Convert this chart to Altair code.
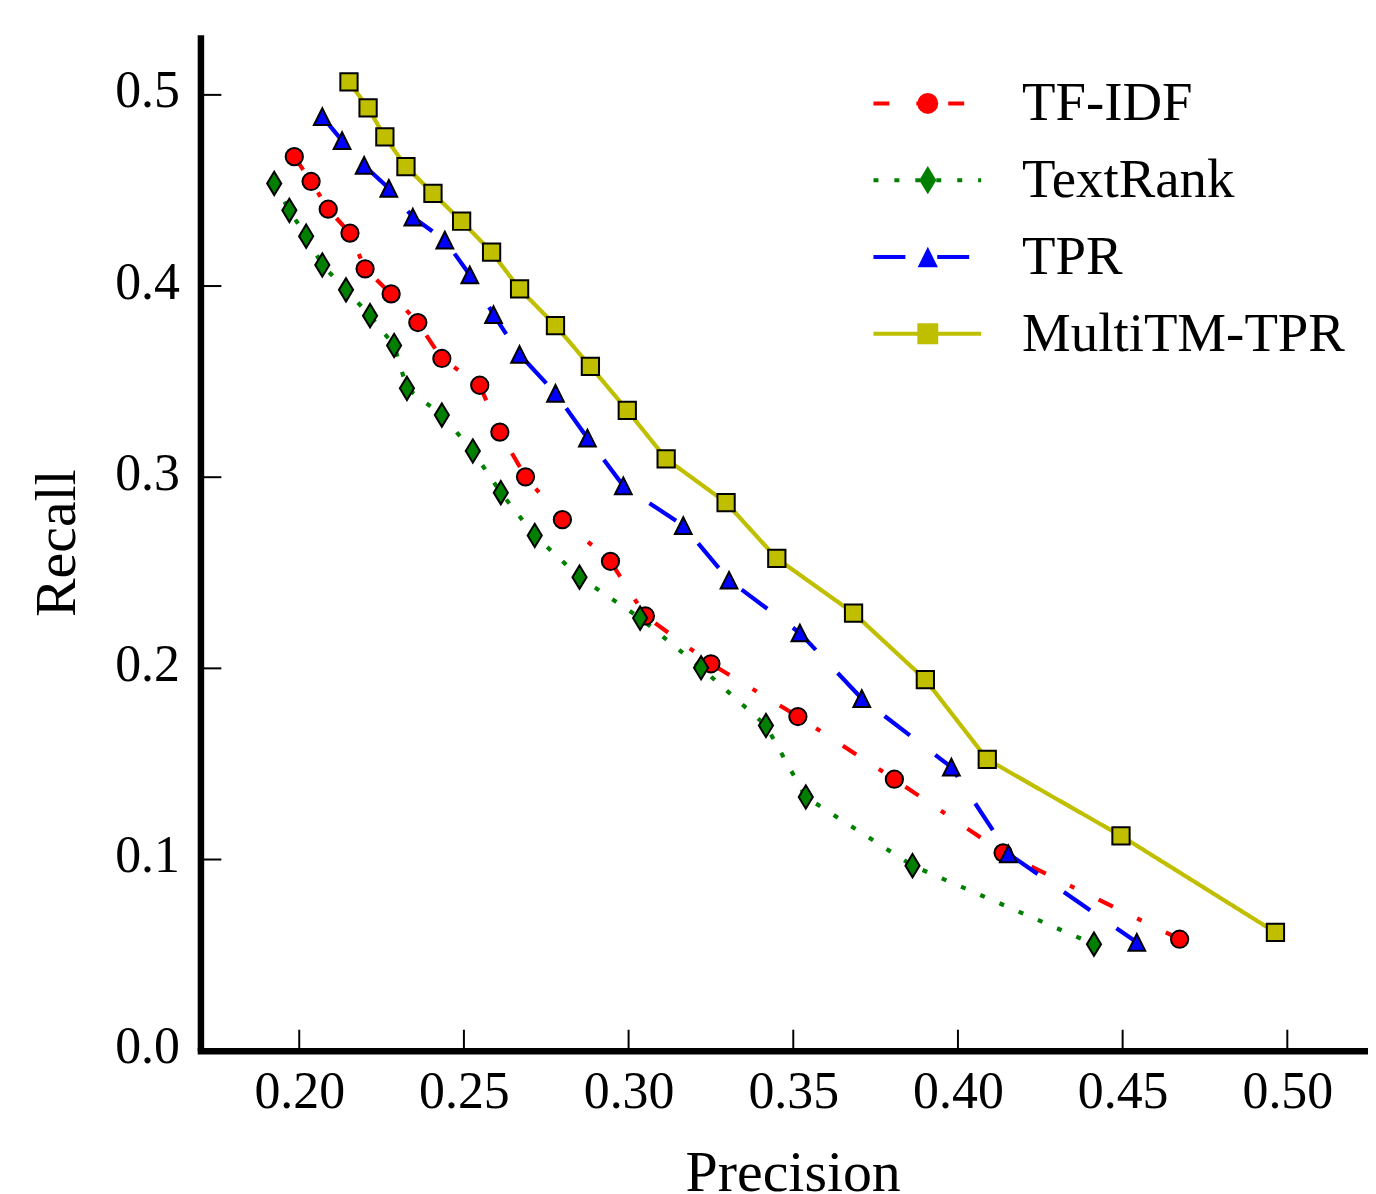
import altair as alt
import pandas as pd

methods = ["TF-IDF", "TextRank", "TPR", "MultiTM-TPR"]
colors = ["#ff0000", "#007f00", "#0000ff", "#bfbf00"]
dashes = [[16, 27, 5, 27], [5, 16], [32, 32], [1, 0]]
shapes = ["circle", "M0,-1.35L0.82,0L0,1.35L-0.82,0Z", "M0,-0.97L0.97,0.97L-0.97,0.97Z", "square"]

tfidf_p = [0.1985, 0.2036, 0.2088, 0.2154, 0.2200, 0.2279, 0.2360, 0.2433, 0.2548, 0.2609,
           0.2687, 0.2799, 0.2945, 0.3051, 0.3250, 0.3514, 0.3807, 0.4137, 0.4673]
tfidf_r = [0.4677, 0.4547, 0.4402, 0.4277, 0.4090, 0.3959, 0.3809, 0.3621, 0.3481, 0.3236,
           0.3002, 0.2778, 0.2560, 0.2274, 0.2024, 0.1748, 0.1420, 0.1035, 0.0583]

textrank_p = [0.1924, 0.1970, 0.2021, 0.2070, 0.2142, 0.2215, 0.2288, 0.2327, 0.2433, 0.2527,
              0.2612, 0.2715, 0.2851, 0.3035, 0.3220, 0.3417, 0.3538, 0.3862, 0.4413]
textrank_r = [0.4537, 0.4396, 0.4261, 0.4110, 0.3980, 0.3845, 0.3689, 0.3465, 0.3325, 0.3137,
              0.2919, 0.2695, 0.2477, 0.2263, 0.2003, 0.1701, 0.1327, 0.0968, 0.0557]

tpr_p = [0.2070, 0.2130, 0.2197, 0.2272, 0.2345, 0.2442, 0.2518, 0.2590, 0.2669, 0.2778,
         0.2875, 0.2984, 0.3166, 0.3305, 0.3520, 0.3708, 0.3980, 0.4153, 0.4543]
tpr_r = [0.4886, 0.4761, 0.4631, 0.4511, 0.4360, 0.4240, 0.4058, 0.3850, 0.3642, 0.3439,
         0.3205, 0.2955, 0.2747, 0.2461, 0.2185, 0.1842, 0.1483, 0.1030, 0.0567]

multi_p = [0.2151, 0.2209, 0.2260, 0.2324, 0.2406, 0.2493, 0.2584, 0.2669, 0.2778, 0.2884,
           0.2996, 0.3114, 0.3296, 0.3450, 0.3683, 0.3901, 0.4089, 0.4495, 0.4964]
multi_r = [0.5068, 0.4932, 0.4780, 0.4625, 0.4485, 0.4339, 0.4178, 0.3985, 0.3793, 0.3580,
           0.3350, 0.3096, 0.2867, 0.2575, 0.2289, 0.1941, 0.1524, 0.1124, 0.0619]

x_ticks = [0.20, 0.25, 0.30, 0.35, 0.40, 0.45, 0.50]
y_ticks = [0.0, 0.1, 0.2, 0.3, 0.4, 0.5]

rows = []
for sid, (m, ps, rs) in enumerate(zip(methods, [tfidf_p, textrank_p, tpr_p, multi_p],
                                      [tfidf_r, textrank_r, tpr_r, multi_r])):
    for i, (p, r) in enumerate(zip(ps, rs)):
        rows.append({"method": m, "sid": sid, "precision": p, "recall": r, "order": i})
df = pd.DataFrame(rows)

W, H = 1171, 1019
FONT = "Liberation Serif"
xs = alt.Scale(domain=[0.17, 0.5245], nice=False, zero=False)
ys = alt.Scale(domain=[0.0, 0.5315], nice=False, zero=False)

x_axis = alt.Axis(title="Precision", values=x_ticks, format=".2f", ticks=False, tickSize=0,
                  grid=False, labelPadding=16, titlePadding=27, domainCap="square", titleX=594)
y_axis = alt.Axis(title="Recall", values=y_ticks, format=".1f", ticks=False, tickSize=0,
                  grid=False, labelPadding=21, titlePadding=28, labelOffset=-4)

legend_lines = alt.Legend(title=None, orient="none", legendX=673, legendY=39, padding=0,
                          symbolType="stroke", symbolSize=11664, symbolStrokeWidth=4,
                          labelFont=FONT, labelFontSize=55, labelColor="black",
                          labelOffset=39, labelLimit=600, rowPadding=17, clipHeight=60)
legend_points = alt.Legend(title=None, orient="none", legendX=702, legendY=39, padding=0,
                           symbolSize=440, symbolStrokeWidth=2, symbolStrokeColor="black",
                           labelFont=FONT, labelFontSize=55, labelOpacity=0,
                           labelOffset=38, labelLimit=600, rowPadding=17, clipHeight=60)

lines = alt.Chart(df).mark_line(strokeWidth=4.2).encode(
    x=alt.X("precision:Q", scale=xs, axis=x_axis),
    y=alt.Y("recall:Q", scale=ys, axis=y_axis),
    color=alt.Color("method:N", scale=alt.Scale(domain=methods, range=colors), legend=legend_lines),
    strokeDash=alt.StrokeDash("method:N", scale=alt.Scale(domain=methods, range=dashes),
                              legend=legend_lines),
    order="order:Q",
)

points = alt.Chart(df).mark_point(filled=True, stroke="black", strokeWidth=2, size=300,
                                  opacity=1).encode(
    x=alt.X("precision:Q", scale=xs, axis=x_axis),
    y=alt.Y("recall:Q", scale=ys, axis=y_axis),
    fill=alt.Fill("sid:N", scale=alt.Scale(range=colors), legend=legend_points),
    shape=alt.Shape("sid:N", scale=alt.Scale(range=shapes), legend=legend_points),
)

xt = alt.Chart(pd.DataFrame({"tx": x_ticks})).mark_rule(color="black", strokeWidth=2).encode(
    x=alt.X("tx:Q", scale=xs, axis=x_axis),
    y=alt.value(H),
    y2=alt.value(H - 21),
)
yt = alt.Chart(pd.DataFrame({"ty": y_ticks})).mark_rule(color="black", strokeWidth=2).encode(
    y=alt.Y("ty:Q", scale=ys, axis=y_axis),
    x=alt.value(0),
    x2=alt.value(21),
)

chart = alt.layer(lines, points, xt, yt).properties(
    width=W, height=H,
    padding={"left": 193, "top": 25, "right": 0, "bottom": 142},
    autosize=alt.AutoSizeParams(type="none"),
    background="white",
).configure_view(strokeWidth=0).configure_axis(
    domainColor="black", domainWidth=6.5,
    labelFont=FONT, labelFontSize=52, labelColor="black",
    titleFont=FONT, titleFontSize=58, titleFontWeight="normal", titleColor="black",
)

chart.save("out.html", embed_options={"renderer": "svg", "actions": False})
